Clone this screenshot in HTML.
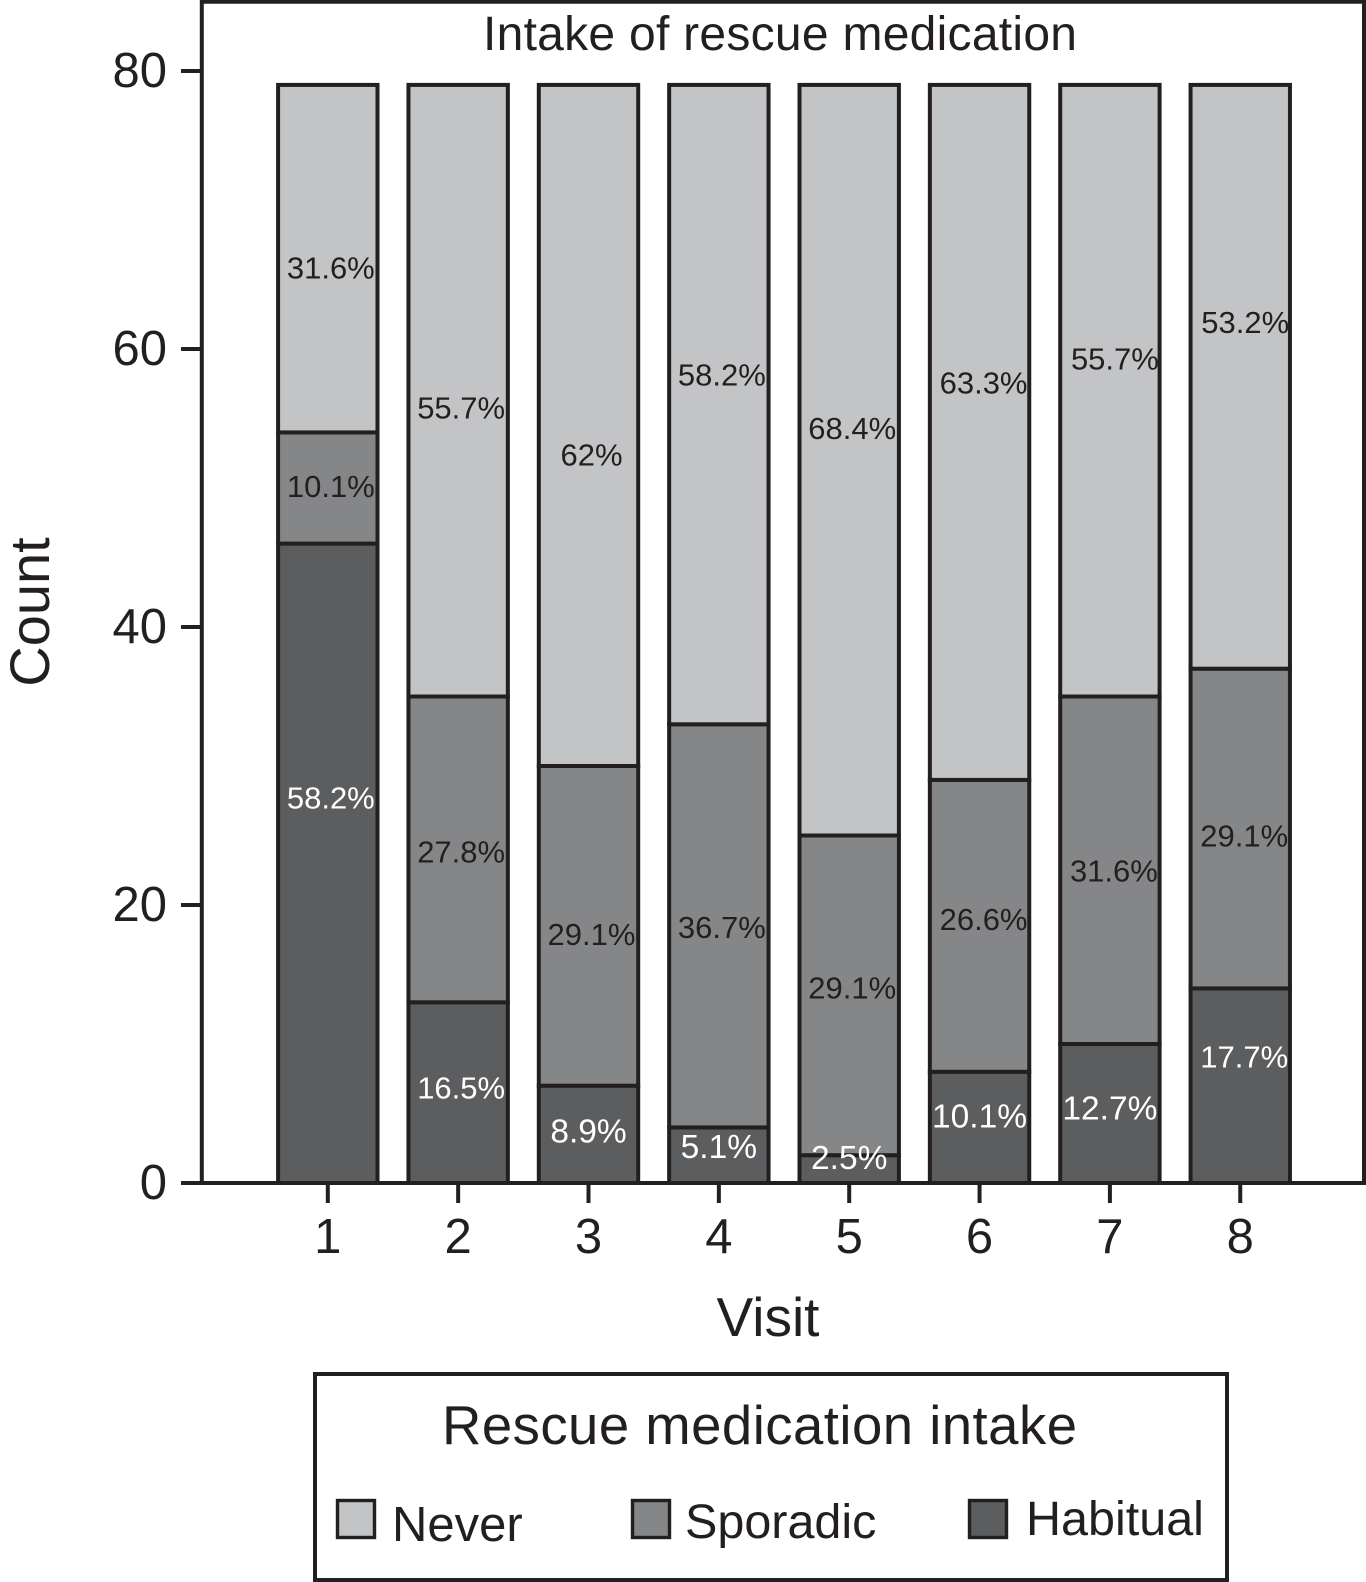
<!DOCTYPE html>
<html lang="en">
<head>
<meta charset="utf-8">
<title>Intake of rescue medication</title>
<style>
  html, body { margin: 0; padding: 0; background: #ffffff; }
  svg { display: block; }
  text { font-family: "Liberation Sans", Arial, sans-serif; fill: #231f20; }
</style>
</head>
<body>
<svg id="chart" xmlns="http://www.w3.org/2000/svg" width="1366" height="1582" viewBox="0 0 1366 1582">
  <rect x="0" y="0" width="1366" height="1582" fill="#ffffff"/>
  <g id="bars"></g>
  <g id="labels"></g>
  <path d="M201.8 1183V1.8H1364V1183" fill="none" stroke="#231f20" stroke-width="4"/>
  <g id="axes"></g>
  <text x="780" y="50" font-size="48" text-anchor="middle" textLength="594" lengthAdjust="spacing">Intake of rescue medication</text>
  <text x="768" y="1336" font-size="55" text-anchor="middle">Visit</text>
  <text transform="translate(49,612) rotate(-90)" font-size="56" text-anchor="middle">Count</text>
  <g>
    <rect x="315" y="1374" width="912" height="206" fill="#ffffff" stroke="#231f20" stroke-width="4"/>
    <text x="442" y="1444" font-size="54.5" textLength="635" lengthAdjust="spacing">Rescue medication intake</text>
    <g>
      <rect x="337.5" y="1500.5" width="37" height="37" fill="#c3c4c6" stroke="#231f20" stroke-width="3.4"/>
      <text x="392" y="1541" font-size="49">Never</text>
    </g>
    <g>
      <rect x="632.5" y="1500.5" width="37" height="37" fill="#858688" stroke="#231f20" stroke-width="3.4"/>
      <text x="685" y="1538" font-size="48.5">Sporadic</text>
    </g>
    <g>
      <rect x="969.5" y="1500.5" width="37" height="37" fill="#5c5d5f" stroke="#231f20" stroke-width="3.4"/>
      <text x="1026" y="1535" font-size="48.5">Habitual</text>
    </g>
  </g>
</svg>
<script>
// ---- data ----
const visits = [1, 2, 3, 4, 5, 6, 7, 8];
const yTickValues = [0, 20, 40, 60, 80];
const habitualCounts = [46, 13, 7, 4, 2, 8, 10, 14];
const sporadicCounts = [8, 22, 23, 29, 23, 21, 25, 23];
const neverCounts = [25, 44, 49, 46, 54, 50, 44, 42];
const habitualLabels = ['58.2%', '16.5%', '8.9%', '5.1%', '2.5%', '10.1%', '12.7%', '17.7%'];
const sporadicLabels = ['10.1%', '27.8%', '29.1%', '36.7%', '29.1%', '26.6%', '31.6%', '29.1%'];
const neverLabels = ['31.6%', '55.7%', '62%', '58.2%', '68.4%', '63.3%', '55.7%', '53.2%'];

// ---- annotation placement: hand offsets of each printed label from its segment's middle ----
const habitualNudgeY = [-65, -4, -2, -7, -10, -10, -4, -28];
const sporadicNudgeY = [-1, 3, 9, 2, -7, -6, 1, 8];
const neverNudgeY = [10, 18, 30, -29, -31, -49, -31, -54];
const habitualNudgeX = [3, 3, 0, 0, 0, 0, 0, 4];
const sporadicNudgeX = [3, 3, 3, 3, 3, 4, 4, 4];
const neverNudgeX = [3, 3, 3, 3, 3, 4, 5, 5];
const habitualLabelSize = [31, 31, 33.5, 33.5, 33.5, 33.5, 33.5, 31];

// ---- axis functions ----
const SVG_NS = 'http://www.w3.org/2000/svg';
const INK = '#231f20';
const yScale = function (count) { return 1183 - count * 13.9; };
const xScale = function (index) { return 327.8 + index * 130.35; };
const BAR_WIDTH = 99.4;

function make(tag, parent, props, content) {
  const el = document.createElementNS(SVG_NS, tag);
  Object.keys(props).forEach(function (k) { el.setAttribute(k, props[k]); });
  if (content !== undefined) el.textContent = content;
  parent.appendChild(el);
  return el;
}

const barsLayer = document.getElementById('bars');
const labelsLayer = document.getElementById('labels');
const axesLayer = document.getElementById('axes');

const stackOrder = [
  { key: 'habitual', counts: habitualCounts, labels: habitualLabels, nx: habitualNudgeX, ny: habitualNudgeY, size: habitualLabelSize, fill: '#5c5d5f', text: '#ffffff' },
  { key: 'sporadic', counts: sporadicCounts, labels: sporadicLabels, nx: sporadicNudgeX, ny: sporadicNudgeY, size: null, fill: '#858688', text: INK },
  { key: 'never', counts: neverCounts, labels: neverLabels, nx: neverNudgeX, ny: neverNudgeY, size: null, fill: '#c3c4c6', text: INK }
];

visits.forEach(function (visit, i) {
  let base = 0;
  stackOrder.forEach(function (series) {
    const top = base + series.counts[i];
    const yTop = yScale(top);
    const yBase = yScale(base);
    const rect = make('rect', barsLayer, {
      x: xScale(i) - BAR_WIDTH / 2,
      y: yTop,
      width: BAR_WIDTH,
      height: yBase - yTop,
      fill: series.fill,
      stroke: INK,
      'stroke-width': 4
    });
    
    

    const label = make('text', labelsLayer, {
      x: xScale(i) + series.nx[i],
      y: (yTop + yBase) / 2 + series.ny[i] + 10,
      'font-size': series.size ? series.size[i] : 31,
      'text-anchor': 'middle',
      style: 'fill:' + series.text
    }, series.labels[i]);
    
    
    base = top;
  });

  const tick = make('line', axesLayer, {
    x1: xScale(i), x2: xScale(i), y1: 1183, y2: 1203,
    stroke: INK, 'stroke-width': 4
  });
  
  

  const tickLabel = make('text', axesLayer, {
    x: xScale(i), y: 1253, 'font-size': 49, 'text-anchor': 'middle'
  }, String(visit));
  
  
});

const xAxisLine = make('line', axesLayer, {
  x1: 181, x2: 1366, y1: yScale(0), y2: yScale(0),
  stroke: INK, 'stroke-width': 4
});



yTickValues.forEach(function (value) {
  const tick = make('line', axesLayer, {
    x1: 181, x2: 201, y1: yScale(value), y2: yScale(value),
    stroke: INK, 'stroke-width': 4
  });
  
  

  const tickLabel = make('text', axesLayer, {
    x: 167, y: yScale(value) + 16, 'font-size': 49, 'text-anchor': 'end'
  }, String(value));
  
  
});
</script>
</body>
</html>
